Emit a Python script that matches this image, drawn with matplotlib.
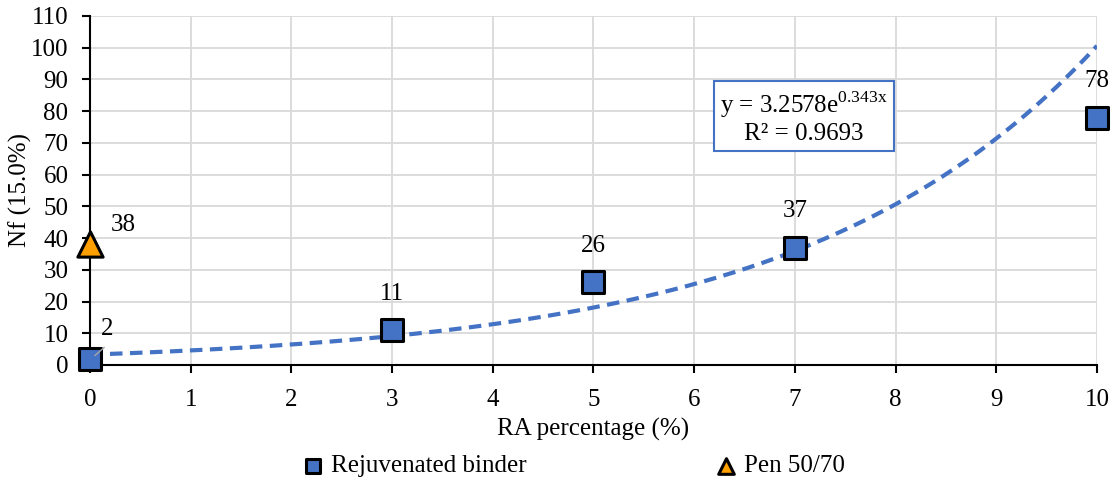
import numpy as np
import matplotlib
matplotlib.use("Agg")
import matplotlib.pyplot as plt

plt.rcParams['font.family'] = ['Liberation Serif', 'DejaVu Serif']
plt.rcParams['mathtext.fontset'] = 'custom'
plt.rcParams['mathtext.rm'] = 'Liberation Serif'

# data
ra_pct = [0, 3, 5, 7, 10]
nf_rejuv = [2, 11, 26, 37, 78]
ra_pen = [0]
nf_pen = [38]
fit_a = 3.2578
fit_b = 0.343
fit_r2 = 0.9693

blue = '#4472C4'
orange = '#FFA000'
fs = 18

fig = plt.figure(figsize=(11.14, 4.8), dpi=100)
ax = fig.add_axes([0.0808, 0.2396, 0.9039, 0.7271])

# trendline from the equation shown
xf = np.linspace(0, 10, 200)
ax.plot(xf, fit_a * np.exp(fit_b * xf), linestyle=(0, (3, 1.8)), color=blue, lw=3, zorder=3)

ax.scatter(ra_pct, nf_rejuv, marker='s', s=250, color=blue, edgecolor='black', linewidth=2.2,
           zorder=5, label='Rejuvenated binder', clip_on=False)
ax.scatter(ra_pen, nf_pen, marker='^', s=330, color=orange, edgecolor='black', linewidth=2.2,
           zorder=5, label='Pen 50/70', clip_on=False)

# data labels
for x, y in zip(ra_pct, nf_rejuv):
    if x == 0:
        ax.annotate(str(y), (x, y), xytext=(12, 21), textcoords='offset points', fontsize=fs,
                    ha='center', va='center')
        ax.plot([x + 0.05, x + 0.14], [y + 1.0, y + 3.5], color='#A6A6A6', lw=1, zorder=6)
    else:
        ax.annotate(str(y), (x, y), xytext=(0, 26), textcoords='offset points', fontsize=fs,
                    ha='center', va='center')
for x, y in zip(ra_pen, nf_pen):
    ax.annotate(str(y), (x, y), xytext=(24, 14), textcoords='offset points', fontsize=fs,
                ha='center', va='center')

ax.text(7.09, 78.2, 'y = %.4fe$^{\\mathrm{%.3fx}}$\nR² = %.4f' % (fit_a, fit_b, fit_r2),
        fontsize=fs, ha='center', va='center', linespacing=1.15,
        bbox=dict(boxstyle='square,pad=0.25', fc='white', ec=blue, lw=1.5), zorder=7)

ax.set_xlim(0, 10)
ax.set_ylim(0, 110)
ax.set_xticks(range(0, 11))
ax.set_yticks(range(0, 111, 10))
ax.tick_params(labelsize=fs, direction='out', length=5.5, width=1.5, color='black')
ax.tick_params(axis='x', pad=12)
ax.tick_params(axis='y', pad=10)
ax.grid(True, color='#D9D9D9', lw=1.3)
ax.set_axisbelow(True)
for s in ['top', 'right']:
    ax.spines[s].set_visible(False)
for s in ['left', 'bottom']:
    ax.spines[s].set_linewidth(1.5)

ax.set_xlabel('RA percentage (%)', fontsize=fs, labelpad=5)
ax.set_ylabel('Nf (15.0%)', fontsize=fs, labelpad=-1)

leg = fig.legend(loc='center', bbox_to_anchor=(0.514, 0.029), ncol=2, frameon=False, fontsize=fs,
                 columnspacing=7.5, handlelength=1.0, handletextpad=0.2, markerscale=0.62)

fig.savefig('out.png', dpi=100)
